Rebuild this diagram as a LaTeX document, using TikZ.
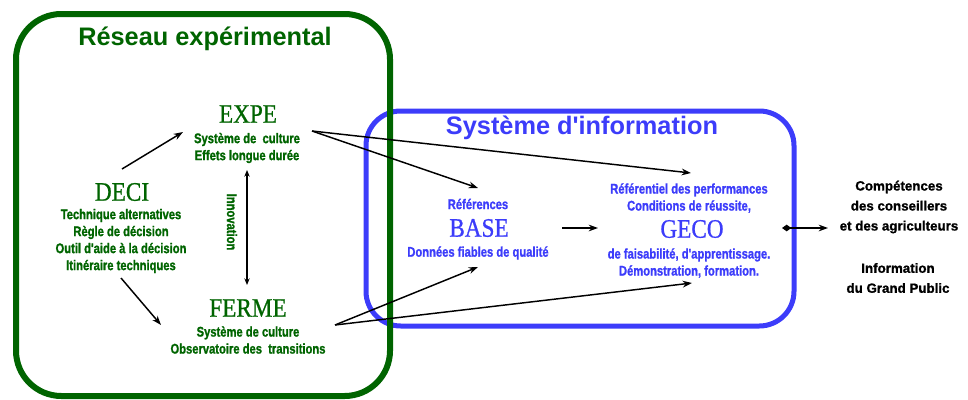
\documentclass[tikz,border=0pt]{standalone}
\usepackage{fontspec}
\setmainfont{Liberation Serif}
\newfontfamily\titrefont{Liberation Sans}
\newfontfamily\petitfont[FakeStretch=0.8,FakeBold=1.2]{Liberation Sans}
\newfontfamily\ciblefont[FakeBold=1.2]{Liberation Sans}
\newfontfamily\tetefont[FakeStretch=0.87,FakeBold=0.8]{Liberation Serif}
\usetikzlibrary{arrows.meta}
\definecolor{vert}{RGB}{0,100,0}
\definecolor{bleu}{RGB}{60,60,250}
\tikzstyle{titre}=[
        font=\titrefont\bfseries\fontsize{19}{22}\selectfont
]
\tikzstyle{tete}=[
        font=\tetefont\fontsize{20}{24}\selectfont, inner sep=0pt
]
\tikzstyle{petit}=[
        font=\petitfont\bfseries\fontsize{10.5}{12.75}\selectfont, align=center, inner sep=0pt
]
\tikzstyle{cibletxt}=[
        font=\ciblefont\bfseries\fontsize{10}{15}\selectfont, align=center, inner sep=0pt
]
\tikzstyle{fleche}=[
        -{Stealth[length=7pt,width=5pt]}, line width=1.1pt
]

\begin{document}
\begin{tikzpicture}[x=0.75pt,y=-0.75pt]
    \useasboundingbox (0,0) rectangle (968,400);

    % cadres
    \draw[bleu,line width=3.75pt,rounded corners=26pt] (366,111) rectangle (794,326);
    \draw[vert,line width=4.5pt,rounded corners=34pt] (16,14) rectangle (390,396);

    \node[titre,vert] (reseau) at (205,39) {Réseau expérimental};
    \node[titre,bleu] (sysinfo) at (582,128) {Système d'information};

    % reseau experimental
    \node[tete,vert] (expe) at (248,114) {EXPE};
    \node[petit,vert] (expe txt) at (247,148) {Système de~ culture\\Effets longue durée};

    \node[tete,vert] (deci) at (122,192) {DECI};
    \node[petit,vert] (deci txt) at (121,241) {Technique alternatives\\Règle de décision\\Outil d'aide à la décision\\Itinéraire techniques};

    \node[tete,vert] (ferme) at (248,308) {FERME};
    \node[petit,vert] (ferme txt) at (248,340) {Système de culture\\Observatoire des~ transitions};

    \node[petit,vert,rotate=-90] (innov) at (232,222) {Innovation};

    % systeme d'information
    \node[petit,bleu] (references) at (478,204) {Références};
    \node[tete,bleu] (base) at (479,228) {BASE};
    \node[petit,bleu] (base txt) at (478,253) {Données fiables de qualité};

    \node[petit,bleu] (geco haut) at (689,198) {Référentiel des performances\\Conditions de réussite,};
    \node[tete,bleu] (geco) at (692,229) {GECO};
    \node[petit,bleu] (geco bas) at (689,263) {de faisabilité, d'apprentissage.\\Démonstration, formation.};

    % cibles
    \node[cibletxt] (competences) at (899,207) {Compétences\\des conseillers\\et des agriculteurs};
    \node[cibletxt] (public) at (898,278) {Information\\du Grand Public};

    % points d'attache
    \coordinate (deci haut) at (122,169);
    \coordinate (deci bas) at (121,278);
    \coordinate (expe entree) at (183,132);
    \coordinate (ferme entree) at (161,325);
    \coordinate (innov haut) at (247,170);
    \coordinate (innov bas) at (247,285);
    \coordinate (expe sortie) at (312,131);
    \coordinate (ferme sortie) at (335,325);
    \coordinate (base haut) at (478,188);
    \coordinate (base bas) at (478,267);
    \coordinate (geco haut pt) at (691,173);
    \coordinate (geco bas pt) at (692,283);
    \coordinate (base droite) at (562,228);
    \coordinate (geco gauche) at (598,228);
    \coordinate (geco droite) at (782,228);
    \coordinate (cible) at (828,228);

    \draw[fleche] (deci haut) -- (expe entree);
    \draw[fleche] (deci bas) -- (ferme entree);
    \draw[{Stealth[length=5pt,width=4pt]}-{Stealth[length=5pt,width=4pt]},line width=1.1pt] (innov haut) -- (innov bas);

    \draw[fleche] (expe sortie) -- (base haut);
    \draw[fleche] (expe sortie) -- (geco haut pt);
    \draw[fleche] (ferme sortie) -- (base bas);
    \draw[fleche] (ferme sortie) -- (geco bas pt);
    \draw[fleche] (base droite) -- (geco gauche);
    \draw[{Diamond[length=7pt,width=5pt]}-{Stealth[length=7pt,width=5pt]},line width=1.1pt] (geco droite) -- (cible);

\end{tikzpicture}
\end{document}
